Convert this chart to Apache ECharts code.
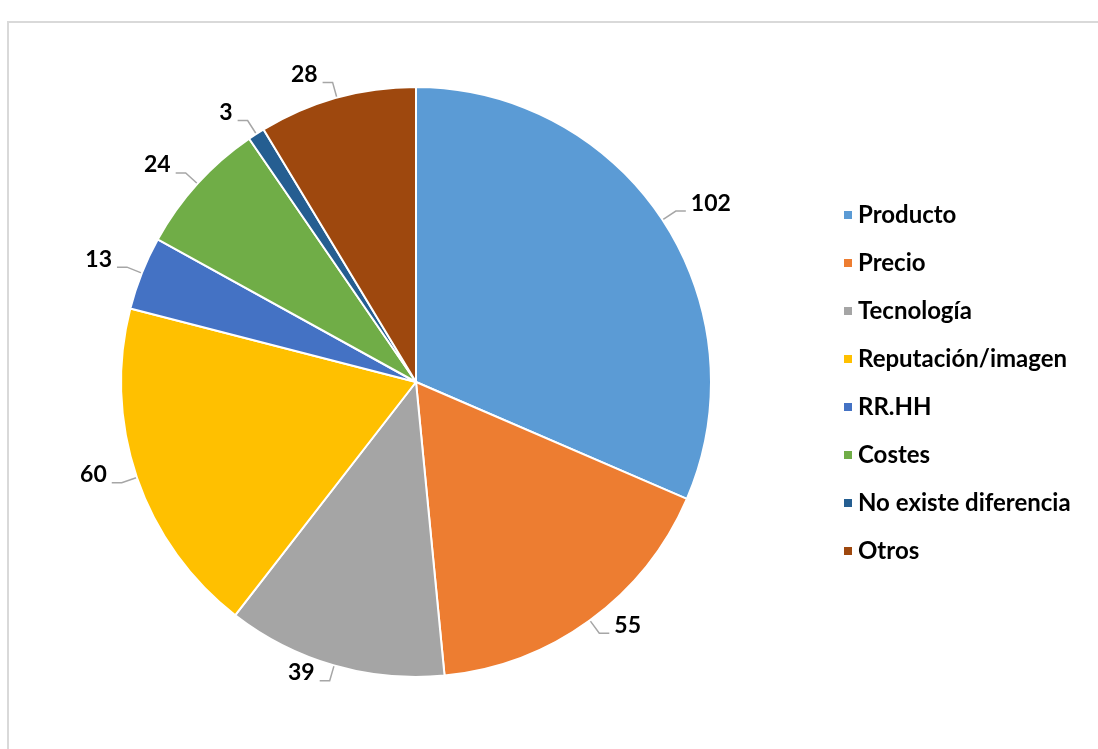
<!DOCTYPE html>
<html>
<head>
<meta charset="utf-8">
<script src="https://cdn.jsdelivr.net/npm/echarts@6/dist/echarts.min.js"></script>
<style>
  html, body { margin: 0; padding: 0; background: #fff; }
  #chart { width: 1098px; height: 749px; }
</style>
</head>
<body>
<div id="chart"></div>
<script>
// categorías y valores
const categorias = ["Producto", "Precio", "Tecnología", "Reputación/imagen", "RR.HH", "Costes", "No existe diferencia", "Otros"];
const valores = [102, 55, 39, 60, 13, 24, 3, 28];
const colores = ["#5B9BD5", "#ED7D31", "#A5A5A5", "#FFC000", "#4472C4", "#70AD47", "#255E91", "#9E480E"];

const myChart = echarts.init(document.querySelector("#chart"));
const option = {
  color: colores,
  textStyle: { fontFamily: "Lato" },
  graphic: [
    {
      type: "rect",
      shape: { x: 8, y: 22, width: 1200, height: 800 },
      style: { fill: "none", stroke: "#d9d9d9", lineWidth: 2 },
      silent: true,
    },
  ],
  legend: {
    orient: "vertical",
    left: 837,
    top: 198,
    icon: "rect",
    itemWidth: 10,
    itemHeight: 10,
    itemGap: 24,
    textStyle: {
      fontFamily: "Lato",
      fontWeight: "bold",
      fontSize: 24,
      lineHeight: 24,
      color: "#000",
    },
    data: categorias,
  },
  series: [
    {
      type: "pie",
      center: [416, 382],
      radius: [0, 295],
      startAngle: 90,
      clockwise: true,
      avoidLabelOverlap: false,
      itemStyle: { borderColor: "#fff", borderWidth: 2 },
      label: {
        show: true,
        formatter: "{c}",
        fontFamily: "Lato",
        fontWeight: "bold",
        fontSize: 23,
        color: "#000",
      },
      labelLine: {
        show: true,
        length: 16,
        length2: 10,
        lineStyle: { color: "#a6a6a6", width: 1.5 },
      },
      labelLayout: { dy: -8 },
      emphasis: { disabled: true },
      data: categorias.map((name, i) => ({ name: name, value: valores[i] })),
    },
  ],
};
myChart.setOption(option);
</script>
</body>
</html>
